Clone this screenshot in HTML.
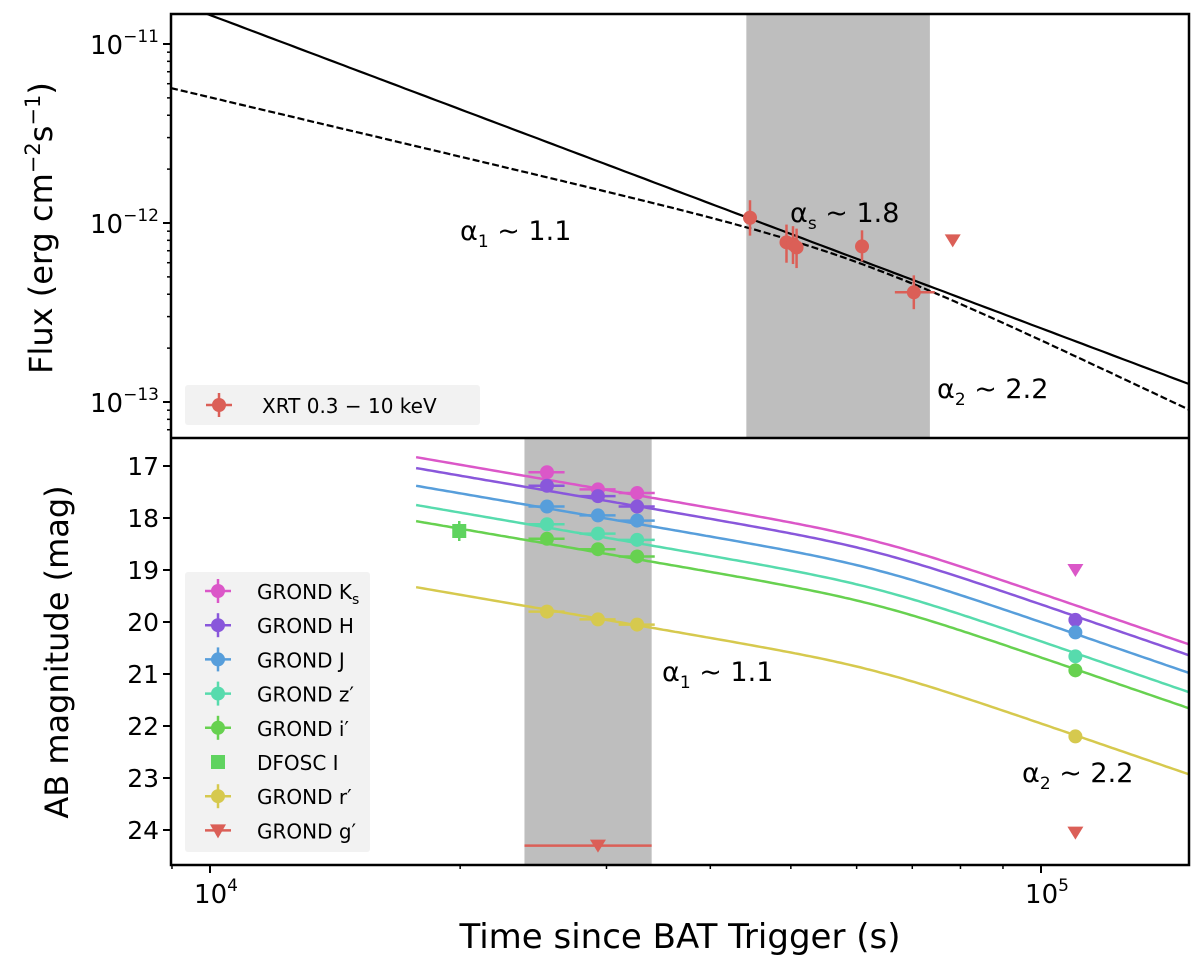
<!DOCTYPE html>
<html><head><meta charset="utf-8"><style>
body{margin:0;background:#fff}
svg{display:block;font-family:"DejaVu Sans","Liberation Sans",sans-serif}
</style></head><body>
<svg id="chart" width="1200" height="966" xmlns="http://www.w3.org/2000/svg"></svg>
<script>
// ---- data ----
const xrtTimes = [44650, 49400, 50300, 50800, 60900, 70300];
const xrtFlux = [1.07e-12, 7.8e-13, 7.6e-13, 7.3e-13, 7.4e-13, 4.1e-13];
const xrtFluxErrLo = [2.2e-13, 1.8e-13, 1.7e-13, 1.7e-13, 1.3e-13, 0.8e-13];
const xrtFluxErrHi = [2.7e-13, 2.0e-13, 2.0e-13, 2.0e-13, 1.7e-13, 1.0e-13];
const xrtUpperTime = [78300];
const xrtUpperFlux = [8.0e-13];
const xrtTimeErrLo = [0, 0, 0, 0, 0, 3600];
const xrtTimeErrHi = [0, 0, 0, 0, 0, 4200];
const xrtBand = [44200, 73500];
const fitSingleAlpha = [1.75];
const fitSingleNorm = [10 ** -10.838]; // flux at 1e4 s
const fitBrokenAlpha1 = [1.1];
const fitBrokenAlpha2 = [2.2];
const fitBrokenBreak = [58900];
const fitBrokenNorm = [10 ** -11.246]; // flux at t=8970 s (early branch)

const optTimes = [25440, 29300, 32660];
const optTimeLate = [110000];
const bands = ["Ks", "H", "J", "z", "i", "r"];
const bandColors = ["#db57c8", "#8957db", "#579edb", "#57dbad", "#67d150", "#d6c94e"];
const magKs = [17.12, 17.45, 17.52];
const magH = [17.38, 17.58, 17.78];
const magJ = [17.78, 17.95, 18.05];
const magZ = [18.12, 18.3, 18.42];
const magI = [18.4, 18.6, 18.74];
const magR = [19.8, 19.95, 20.05];
const magLate = [null, 19.96, 20.2, 20.66, 20.93, 22.2];
const ksLateUpper = [19.0];
const curveStartMag = [16.83, 17.04, 17.38, 17.75, 18.06, 19.33];
const curveStartTime = [17700];
const optBreak = [63000];
const optBand = [23900, 34000];
const dfoscTime = [19950];
const dfoscMag = [18.25];
const gUpperTimes = [29300, 110000];
const gUpperMags = [24.3, 24.05];
const gUpperTimeLo = [23900, 110000];
const gUpperTimeHi = [34000, 110000];

// ---- axes ----
const X0 = 171, X1 = 1189;
const decadePx = 831, x4 = 210;
const X = t => x4 + decadePx * (Math.log10(t) - 4);
const T0 = 10 ** (4 + (X0 - x4) / decadePx), T1 = 10 ** (4 + (X1 - x4) / decadePx);
const TY0 = 14, TY1 = 438;
const YF = f => 44 + 179 * (-11 - Math.log10(f));
const BY0 = 438, BY1 = 865;
const YM = m => 466 + 52 * (m - 17);

const svg = document.getElementById('chart');
const NS = 'http://www.w3.org/2000/svg';
function mk(tag, attrs, parent) {
  const e = document.createElementNS(NS, tag);
  for (const k in attrs) e.setAttribute(k, attrs[k]);
  (parent || svg).appendChild(e);
  return e;
}
function txt(x, y, s, size, anchor, parent) {
  const e = mk('text', { x, y, 'font-size': size, 'text-anchor': anchor || 'start' }, parent);
  e.innerHTML = s;
  return e;
}

const defs = mk('defs', {});
const c1 = mk('clipPath', { id: 'ctop' }, defs); mk('rect', { x: X0, y: TY0, width: X1 - X0, height: TY1 - TY0 }, c1);
const c2 = mk('clipPath', { id: 'cbot' }, defs); mk('rect', { x: X0, y: BY0, width: X1 - X0, height: BY1 - BY0 }, c2);

// ===== TOP PANEL =====
const gt = mk('g', { 'clip-path': 'url(#ctop)' });
 
const shadeT = mk('rect', { x: X(xrtBand[0]), y: TY0, width: X(xrtBand[1]) - X(xrtBand[0]), height: TY1 - TY0, fill: '#bebebe' }, gt);
 

function line(fn, parent, attrs) {
  let d = '';
  for (let i = 0; i <= 200; i++) {
    const lt = Math.log10(T0) + (Math.log10(T1) - Math.log10(T0)) * i / 200;
    const t = 10 ** lt;
    d += (i ? 'L' : 'M') + X(t).toFixed(1) + ',' + fn(t).toFixed(1);
  }
  return mk('path', Object.assign({ d, fill: 'none' }, attrs), parent);
}
const s1 = line(t => YF(fitSingleNorm[0] * (t / 1e4) ** -fitSingleAlpha[0]), gt, { stroke: '#000', 'stroke-width': 2.2 });
 
const sm = 5, tref = 8970;
const brk = t => {
  const tb = fitBrokenBreak[0];
  const Ab = fitBrokenNorm[0] * (tb / tref) ** -fitBrokenAlpha1[0];
  const r = t / tb;
  return Ab * (r ** (fitBrokenAlpha1[0] * sm) + r ** (fitBrokenAlpha2[0] * sm)) ** (-1 / sm);
};
const s2 = line(t => YF(brk(t)), gt, { stroke: '#000', 'stroke-width': 2.2, 'stroke-dasharray': '7,3' });
 

const red = '#db5f57';
xrtTimes.forEach((t, i) => {
  const g = mk('g', {}, gt);
   
  mk('line', { x1: X(t), x2: X(t), y1: YF(xrtFlux[i] + xrtFluxErrHi[i]), y2: YF(xrtFlux[i] - xrtFluxErrLo[i]), stroke: red, 'stroke-width': 2.5 }, g);
  if (xrtTimeErrLo[i]) mk('line', { x1: X(t - xrtTimeErrLo[i]), x2: X(t + xrtTimeErrHi[i]), y1: YF(xrtFlux[i]), y2: YF(xrtFlux[i]), stroke: red, 'stroke-width': 2.5 }, g);
  mk('circle', { cx: X(t), cy: YF(xrtFlux[i]), r: 7, fill: red }, g);
});
xrtUpperTime.forEach((t, i) => {
  const x = X(t), y = YF(xrtUpperFlux[i]);
  const p = mk('path', { d: `M${x - 8},${y - 6}L${x + 8},${y - 6}L${x},${y + 7}Z`, fill: red }, gt);
   
});
txt(460, 240, 'α<tspan font-size="17" dy="7">1</tspan><tspan dy="-7"> ~ 1.1</tspan>', 27);
txt(790, 222, 'α<tspan font-size="17" dy="7">s</tspan><tspan dy="-7"> ~ 1.8</tspan>', 27);
txt(937, 398, 'α<tspan font-size="17" dy="7">2</tspan><tspan dy="-7"> ~ 2.2</tspan>', 27);
const lt = mk('g', {});
 
mk('rect', { x: 185, y: 385, width: 295, height: 40, fill: '#f2f2f2', rx: 3 }, lt);
mk('line', { x1: 206, x2: 232, y1: 405, y2: 405, stroke: red, 'stroke-width': 2.5 }, lt);
mk('line', { x1: 219, x2: 219, y1: 393, y2: 417, stroke: red, 'stroke-width': 2.5 }, lt);
mk('circle', { cx: 219, cy: 405, r: 7, fill: red }, lt);
txt(262, 413, 'XRT 0.3 − 10 keV', 20, 'start', lt);

// ===== BOTTOM PANEL =====
const gb = mk('g', { 'clip-path': 'url(#cbot)' });
 
const shadeB = mk('rect', { x: X(optBand[0]), y: BY0, width: X(optBand[1]) - X(optBand[0]), height: BY1 - BY0, fill: '#bebebe' }, gb);
 

const mags = [magKs, magH, magJ, magZ, magI, magR];
const smo = 8;
curveStartMag.forEach((m0, b) => {
  const ts = curveStartTime[0], tb = optBreak[0];
  const F = t => { const r = t / tb; return (r ** (fitBrokenAlpha1[0] * smo) + r ** (fitBrokenAlpha2[0] * smo)) ** (-1 / smo); };
  const fl = t => m0 - 2.5 * Math.log10(F(t) / F(ts));
  let d = '';
  for (let i = 0; i <= 200; i++) {
    const l = Math.log10(ts) + (Math.log10(T1) - Math.log10(ts)) * i / 200;
    const t = 10 ** l;
    d += (i ? 'L' : 'M') + X(t).toFixed(1) + ',' + YM(fl(t)).toFixed(1);
  }
  const p = mk('path', { d, fill: 'none', stroke: bandColors[b], 'stroke-width': 2.5 }, gb);
   
});
mags.forEach((arr, b) => {
  const c = bandColors[b];
  const pts = arr.map((m, i) => [optTimes[i], m]);
  if (magLate[b] != null) pts.push([optTimeLate[0], magLate[b]]);
  pts.forEach(([t, m]) => {
    const g = mk('g', {}, gb);
     
    if (t < 1e5) mk('line', { x1: X(t * 0.95), x2: X(t * 1.05), y1: YM(m), y2: YM(m), stroke: c, 'stroke-width': 2.5 }, g);
    mk('circle', { cx: X(t), cy: YM(m), r: 7, fill: c }, g);
  });
});
function tri(x, y, c, parent, name) {
  const p = mk('path', { d: `M${x - 8},${y - 6}L${x + 8},${y - 6}L${x},${y + 7}Z`, fill: c }, parent);
   
}
tri(X(optTimeLate[0]), YM(ksLateUpper[0]), bandColors[0], gb, 'ks-upper-limit');
gUpperTimes.forEach((t, i) => {
  if (gUpperTimeHi[i] > gUpperTimeLo[i]) mk('line', { x1: X(gUpperTimeLo[i]), x2: X(gUpperTimeHi[i]), y1: YM(gUpperMags[i]), y2: YM(gUpperMags[i]), stroke: red, 'stroke-width': 2.5 }, gb);
  tri(X(t), YM(gUpperMags[i]), red, gb, 'g-upper-limit');
});
const sq = mk('rect', { x: X(dfoscTime[0]) - 7, y: YM(dfoscMag[0]) - 7, width: 14, height: 14, fill: '#5fd35f' }, gb);
 
mk('line', { x1: X(dfoscTime[0]), x2: X(dfoscTime[0]), y1: YM(dfoscMag[0]) - 10, y2: YM(dfoscMag[0]) + 10, stroke: '#5fd35f', 'stroke-width': 2.5 }, gb);

txt(662, 681, 'α<tspan font-size="17" dy="7">1</tspan><tspan dy="-7"> ~ 1.1</tspan>', 27);
txt(1022, 782, 'α<tspan font-size="17" dy="7">2</tspan><tspan dy="-7"> ~ 2.2</tspan>', 27);

const lb = mk('g', {});
 
mk('rect', { x: 185, y: 572, width: 185, height: 280, fill: '#f2f2f2', rx: 3 }, lb);
const legLabels = ['GROND K<tspan font-size="14" dy="5">s</tspan>', 'GROND H', 'GROND J', "GROND z′", "GROND i′", 'DFOSC I', "GROND r′", "GROND g′"];
const legColors = [bandColors[0], bandColors[1], bandColors[2], bandColors[3], bandColors[4], '#5fd35f', bandColors[5], red];
legLabels.forEach((s, i) => {
  const y = 591 + i * 34.2;
  const g = mk('g', {}, lb);
   
  const c = legColors[i];
  if (i === 5) mk('rect', { x: 211, y: y - 7, width: 14, height: 14, fill: c }, g);
  else if (i === 7) { mk('line', { x1: 205, x2: 231, y1: y, y2: y, stroke: c, 'stroke-width': 2.5 }, g); mk('path', { d: `M${210},${y - 6}L${226},${y - 6}L${218},${y + 8}Z`, fill: c }, g); }
  else {
    mk('line', { x1: 205, x2: 231, y1: y, y2: y, stroke: c, 'stroke-width': 2.5 }, g);
    mk('line', { x1: 218, x2: 218, y1: y - 12, y2: y + 12, stroke: c, 'stroke-width': 2.5 }, g);
    mk('circle', { cx: 218, cy: y, r: 7, fill: c }, g);
  }
  txt(257, y + 8, s, 20, 'start', g);
});

// ===== AXES =====
const ax = mk('g', {});
 
mk('rect', { x: X0, y: TY0, width: X1 - X0, height: BY1 - TY0, fill: 'none', stroke: '#000', 'stroke-width': 2.5 }, ax);
mk('line', { x1: X0, x2: X1, y1: TY1, y2: TY1, stroke: '#000', 'stroke-width': 2.5 }, ax);
for (let e = -14; e <= -10; e++) for (let k = 1; k <= 9; k++) {
  const y = YF(k * 10 ** e);
  if (y < TY0 || y > TY1) continue;
  mk('line', { x1: X0, x2: X0 - (k === 1 ? 8 : 4), y1: y, y2: y, stroke: '#000', 'stroke-width': k === 1 ? 2 : 1.5 }, ax);
  if (k === 1) txt(X0 - 12, y + 10, `10<tspan font-size="17" dy="-12">−${-e}</tspan>`, 26, 'end', ax);
}
for (let m = 17; m <= 24; m++) {
  mk('line', { x1: X0, x2: X0 - 8, y1: YM(m), y2: YM(m), stroke: '#000', 'stroke-width': 2 }, ax);
  txt(X0 - 12, YM(m) + 9, String(m), 25, 'end', ax);
}
for (let e = 3; e <= 5; e++) for (let k = 1; k <= 9; k++) {
  const t = k * 10 ** e, x = X(t);
  if (x < X0 - 1 || x > X1) continue;
  mk('line', { x1: x, x2: x, y1: BY1, y2: BY1 + (k === 1 ? 8 : 4), stroke: '#000', 'stroke-width': k === 1 ? 2 : 1.5 }, ax);
  if (k === 1) txt(x + 6, BY1 + 38, `10<tspan font-size="17" dy="-12">${e}</tspan>`, 26, 'middle', ax);
}
const xl = txt(680, 948, 'Time since BAT Trigger (s)', 34, 'middle');
 
const yl1 = txt(0, 0, 'Flux (erg cm<tspan font-size="21" dy="-12">−2</tspan><tspan dy="12">s</tspan><tspan font-size="21" dy="-12">−1</tspan><tspan dy="12">)</tspan>', 32, 'middle');
yl1.setAttribute('transform', 'translate(52,228) rotate(-90)');
 
const yl2 = txt(0, 0, 'AB magnitude (mag)', 32, 'middle');
yl2.setAttribute('transform', 'translate(68,652) rotate(-90)');
 
</script>
</body></html>
